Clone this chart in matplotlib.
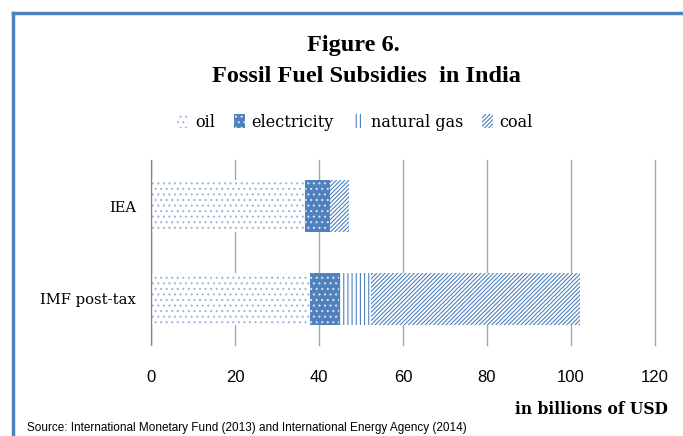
import matplotlib
matplotlib.use("Agg")
import matplotlib.pyplot as plt
from matplotlib.patches import Patch
from matplotlib.lines import Line2D

# subsidies in billions of USD
sources = ["IMF post-tax", "IEA"]
oil = [37.9, 36.7]
electricity = [6.9, 6.0]
natural_gas = [7.7, 0.0]
coal = [49.6, 4.5]
ticks = [0, 20, 40, 60, 80, 100, 120]

BLUE = "#4f81bd"
serif = ["DejaVu Serif"]
title_serif = ["Liberation Serif", "DejaVu Serif"]
sans = ["Liberation Sans Narrow", "Liberation Sans", "DejaVu Sans"]

plt.rcParams["hatch.linewidth"] = 0.8

fig = plt.figure(figsize=(6.83, 4.36), dpi=100)
ax = fig.add_axes([0.221, 0.209, 0.738, 0.424])

styles = [
    ("oil", oil, dict(facecolor="white", edgecolor="#9fb8df", hatch="...")),
    ("electricity", electricity, dict(facecolor=BLUE, edgecolor="#d5e0f0", hatch="...")),
    ("natural gas", natural_gas, dict(facecolor="white", edgecolor=BLUE, hatch="||||")),
    ("coal", coal, dict(facecolor="white", edgecolor=BLUE, hatch="////////")),
]

y = list(range(len(sources)))
left = [0.0] * len(sources)
handles = []
for name, vals, st in styles:
    ax.barh(y, vals, left=left, height=0.565, linewidth=0, zorder=3, **st)
    left = [l + v for l, v in zip(left, vals)]
    handles.append(Patch(linewidth=0, label=name, **st))

ax.set_xlim(0, 120)
ax.set_ylim(-0.5, 1.5)
ax.set_xticks(ticks)
ax.set_xticklabels([str(t) for t in ticks], family=sans, fontsize=12)
ax.set_yticks(y)
ax.set_yticklabels(sources, family=serif, fontsize=10.6)
ax.tick_params(axis="y", length=0, pad=10.5)
ax.tick_params(axis="x", length=0, pad=18)
ax.grid(axis="x", color="#a6a6a6", linewidth=1, zorder=0)
for line in ax.get_xgridlines():
    line.set_clip_on(False)
for s in ax.spines.values():
    s.set_visible(False)
ax.axvline(0, color="#868686", linewidth=1, zorder=4)

fig.text(0.517, 0.895, "Figure 6.", ha="center", va="center",
         family=title_serif, fontsize=17.5, fontweight="bold")
fig.text(0.537, 0.825, "Fossil Fuel Subsidies  in India", ha="center", va="center",
         family=title_serif, fontsize=17.5, fontweight="bold")

fig.legend(handles=handles, loc="center", bbox_to_anchor=(0.52, 0.72), ncol=4,
           frameon=False, prop={"family": serif, "size": 11.5},
           handlelength=0.7, handleheight=0.9, handletextpad=0.4, columnspacing=1.2)

fig.text(0.978, 0.06, "in billions of USD", ha="right", va="center",
         family=serif, fontsize=11.2, fontweight="bold")
fig.text(0.04, 0.018, "Source: International Monetary Fund (2013) and International Energy Agency (2014)",
         ha="left", va="center", family=sans, fontsize=8.5)

# frame lines along the top and left edge
fig.add_artist(Line2D([0.019, 0.019], [0.0, 0.97], color=BLUE, linewidth=2.5))
fig.add_artist(Line2D([0.019, 1.0], [0.97, 0.97], color=BLUE, linewidth=2.5))

fig.savefig("out.png", dpi=100)
